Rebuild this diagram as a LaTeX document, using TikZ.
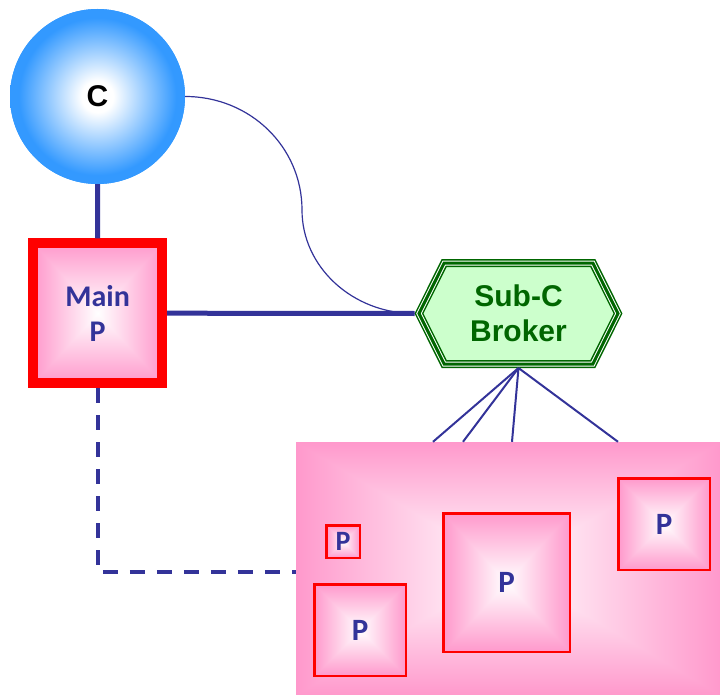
\documentclass[tikz,border=0pt]{standalone}
\usepackage{fontspec}
\setmainfont{Liberation Sans}
\newfontfamily\pfont{Carlito}
\usetikzlibrary{positioning,shapes.symbols}
\definecolor{linkblue}{RGB}{51,51,153}
\definecolor{cblue}{RGB}{51,153,255}
\definecolor{bgreen}{RGB}{0,102,0}
\definecolor{lgreen}{RGB}{204,255,204}
\pgfdeclareradialshading{cball}{\pgfpoint{0bp}{0bp}}{color(0bp)=(white); color(4.5bp)=(white); color(22.5bp)=(cblue); color(50bp)=(cblue)}
\pgfdeclarefunctionalshading{pinkbox}{\pgfpoint{-50bp}{-50bp}}{\pgfpoint{50bp}{50bp}}{}{
  abs exch abs 2 copy lt {exch} if pop 25 div dup 1 gt {pop 1} if
  1 exch dup 0.4 mul 1 exch sub exch 0.2 mul 1 exch sub
}

\begin{document}
\begin{tikzpicture}[x=1pt,y=-1pt,
    pbox/.style={draw=red, line width=2.5pt, shade, shading=pinkbox, inner sep=0pt,
      text=linkblue, font=\pfont\bfseries\fontsize{31}{31}\selectfont},
    broker/.style={shape=signal, signal to=west and east, signal pointer angle=127,
      minimum width=199pt, minimum height=101pt, inner sep=0pt, outer sep=4pt,
      preaction={fill=lgreen},
      preaction={draw=bgreen, double=white, line width=1.5pt, double distance=5pt},
      draw=bgreen, line width=3pt, align=center, text=bgreen,
      font=\bfseries\fontsize{30}{35}\selectfont},
    thicklink/.style={draw=linkblue, line width=5pt},
    fanlink/.style={draw=linkblue, line width=2pt},
    thinlink/.style={draw=linkblue, line width=1.2pt},
    dashlink/.style={draw=linkblue, line width=4pt, dash pattern=on 15pt off 12pt}]
  \useasboundingbox (0,0) rectangle (720,695);
  % pink area with the small P boxes
  \node[shade, shading=pinkbox, minimum width=424pt, minimum height=253pt, inner sep=0pt] (cluster) at (508,568.5) {};
  \node[pbox, minimum width=33.5pt, minimum height=32.5pt,
    font=\pfont\bfseries\fontsize{28}{28}\selectfont] (ptiny) at (343,541.5) {P};
  \node[pbox, minimum width=91.5pt, minimum height=91.5pt] (pleft) at (360,630) {P};
  \node[pbox, minimum width=126.5pt, minimum height=138.5pt] (pmid) at (506.5,582.5) {P};
  \node[pbox, minimum width=91.5pt, minimum height=91.5pt] (pright) at (664,524) {P};
  % C, Main P and broker
  \node[circle, preaction={fill=cblue}, shade, shading=cball, minimum size=175pt, inner sep=0pt,
    font=\bfseries\fontsize{30}{30}\selectfont] (chub) at (97.5,96.5) {C};
  \node[pbox, line width=10pt, minimum width=128.7pt, minimum height=139.7pt, align=center,
    font=\pfont\bfseries\fontsize{30}{35}\selectfont] (mainp) at (97.7,313.2) {Main\\P};
  \node[broker] (broker) at (518.5,313.5) {Sub-C\\Broker};
  \coordinate (bend) at (302,210);
  % connectors
  \draw[thicklink] (chub.south) -- (mainp.north);
  \draw[thicklink] (mainp.east) -- (broker.west);
  \draw[thinlink] (chub.east) .. controls +(65,0) and +(0,-63) .. (bend)
    .. controls +(0,57) and +(-62,0) .. (broker.west);
  \draw[dashlink] (mainp.south) |- ([yshift=-3.5pt]cluster.west);
  \draw[fanlink] (broker.south) -- ([xshift=-75pt]cluster.north);
  \draw[fanlink] (broker.south) -- ([xshift=-45pt]cluster.north);
  \draw[fanlink] (broker.south) -- ([xshift=4pt]cluster.north);
  \draw[fanlink] (broker.south) -- ([xshift=110pt]cluster.north);
\end{tikzpicture}
\end{document}
